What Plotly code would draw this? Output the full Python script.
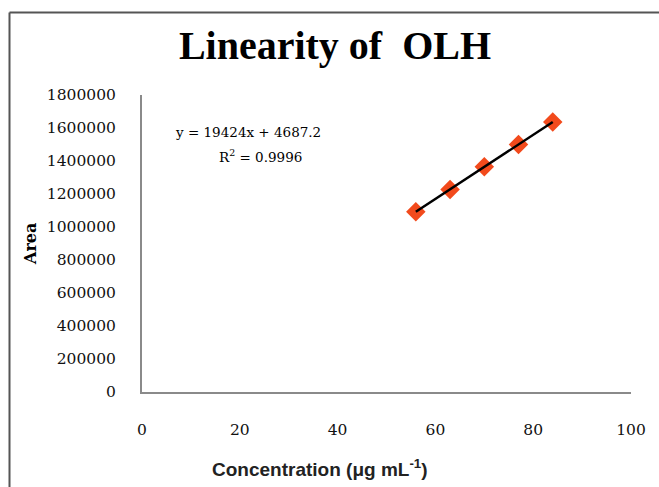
import numpy as np
import plotly.graph_objects as go

# Data
concentration = [56, 63, 70, 77, 84]
area = [1092000, 1228000, 1365000, 1500000, 1636000]
x_ticks = [0, 20, 40, 60, 80, 100]
y_ticks = [0, 200000, 400000, 600000, 800000, 1000000, 1200000, 1400000, 1600000, 1800000]
equation_text = "y = 19424x + 4687.2"
r2_text = "R<sup>2</sup> = 0.9996"
title_text = "Linearity of  OLH"

W, H = 659, 487
L, R, T, B = 142, 28, 95, 95
pw, ph = W - L - R, H - T - B

def px2paper_x(px):
    return (px - L) / pw

def px2paper_y(py):
    return (H - B - py) / ph

slope, intercept = np.polyfit(concentration, area, 1)
fit_x = [concentration[0], concentration[-1]]
fit_y = [slope * v + intercept for v in fit_x]

fig = go.Figure()
fig.add_trace(go.Scatter(
    x=concentration, y=area, mode="markers",
    marker=dict(symbol="diamond", size=15, color="#F24A1C", line=dict(width=0)),
    showlegend=False,
))
fig.add_trace(go.Scatter(
    x=fit_x, y=fit_y, mode="lines",
    line=dict(color="black", width=2.5),
    showlegend=False,
))

serif = "DejaVu Serif"

fig.update_layout(
    width=W, height=H,
    margin=dict(l=L, r=R, t=T, b=B),
    paper_bgcolor="white", plot_bgcolor="white",
    title=dict(text="<b>" + title_text + "</b>", xref="container", yref="container",
               x=335 / W, y=1 - 45 / H, xanchor="center", yanchor="middle",
               font=dict(family="Liberation Serif", size=40, color="black")),
    xaxis=dict(range=[0, 100], tickvals=x_ticks, showline=True, linecolor="#8a8a8a",
               linewidth=2, showgrid=False, zeroline=False, ticks="",
               ticklabelstandoff=22,
               tickfont=dict(family=serif, size=15.5, color="#111111")),
    yaxis=dict(range=[0, 1800000], tickvals=y_ticks, tickformat="d", showline=True,
               linecolor="#8a8a8a", linewidth=2, showgrid=False, zeroline=False,
               ticks="", ticklabelstandoff=21,
               tickfont=dict(family=serif, size=15.5, color="#111111")),
    shapes=[
        dict(type="line", xref="paper", yref="paper",
             x0=px2paper_x(9.5), x1=px2paper_x(9.5), y0=px2paper_y(12.5), y1=px2paper_y(495),
             line=dict(color="#555555", width=2)),
        dict(type="line", xref="paper", yref="paper",
             x0=px2paper_x(9.5), x1=px2paper_x(665), y0=px2paper_y(12.5), y1=px2paper_y(12.5),
             line=dict(color="#555555", width=2)),
    ],
    annotations=[
        dict(text=equation_text, x=21.7, y=1576000, xref="x", yref="y", showarrow=False,
             font=dict(family=serif, size=13.5, color="black")),
        dict(text=r2_text, x=24.3, y=1430000, xref="x", yref="y", showarrow=False,
             font=dict(family=serif, size=13.5, color="black")),
        dict(text="<b>Concentration (μg mL<sup>-1</sup>)</b>", xref="paper", yref="paper",
             x=px2paper_x(320), y=px2paper_y(468), xanchor="center", yanchor="middle",
             showarrow=False,
             font=dict(family="Liberation Sans", size=19, color="#222222")),
        dict(text="<b>Area</b>", xref="paper", yref="paper", textangle=-90,
             x=px2paper_x(30), y=px2paper_y(244), xanchor="center", yanchor="middle",
             showarrow=False,
             font=dict(family=serif, size=16, color="black")),
    ],
)

fig.write_html("out.html")
